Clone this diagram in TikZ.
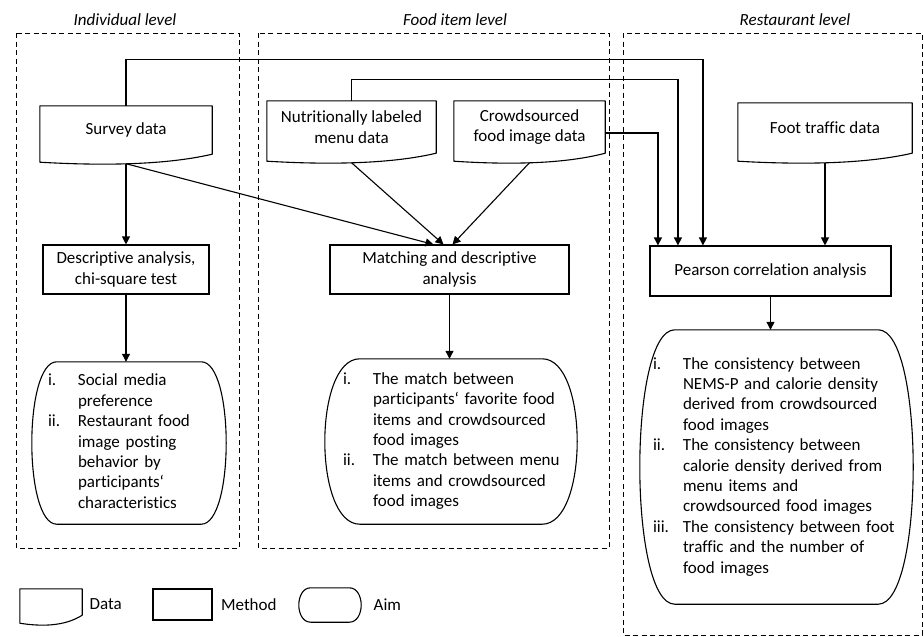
\documentclass[tikz,border=0pt]{standalone}
\usepackage{fontspec}
\setmainfont{Carlito}[Ligatures=NoCommon]
\usetikzlibrary{arrows.meta,positioning,calc}
\newcommand{\datawave}[1]{%
  \draw[shp] (#1.north west) -- (#1.north east) -- (#1.south east)
    .. controls ($(#1.south east)!0.3!(#1.south west)+(0,12)$) and ($(#1.south east)!0.7!(#1.south west)+(0,11)$) .. ($(#1.south west)+(0,8)$) -- cycle;
  \coordinate (#1-w) at ($(#1.south)+(0,9.5)$);}
\newcommand{\aimshape}[2]{%
  \draw[shp] ([xshift=#2]#1.north west) -- ([xshift=-#2]#1.north east)
    .. controls ([xshift=#2/3]#1.north east) and ([xshift=#2/3]#1.south east) .. ([xshift=-#2]#1.south east)
    -- ([xshift=#2]#1.south west)
    .. controls ([xshift=-#2/3]#1.south west) and ([xshift=-#2/3]#1.north west) .. cycle;}

\begin{document}
\begin{tikzpicture}[x=1pt, y=-1pt, every node/.style={font=\fontsize{17}{20.4}\selectfont},
    data/.style={inner sep=0pt, align=center},
    method/.style={draw, line width=1.1pt, inner sep=0pt, align=center},
    aim/.style={inner sep=0pt, align=left},
    title/.style={font=\fontsize{17}{20.4}\selectfont\itshape},
    frame/.style={draw, dash pattern=on 5pt off 3.5pt, line width=1pt},
    shp/.style={draw, line width=1.1pt, line join=round},
    arr/.style={-{Triangle[length=8pt, width=8pt]}, line width=1.1pt}]
  \useasboundingbox (0,0) rectangle (924,637);
  \draw[frame] (16,33) rectangle (239,548);
  \draw[frame] (258,33) rectangle (609,548);
  \draw[frame] (623,33) rectangle (922,635);
  \node[title] (tind) at (125,20) {Individual level};
  \node[title] (tfood) at (455,20) {Food item level};
  \node[title] (trest) at (795,20) {Restaurant level};
  \node[data, minimum width=172pt, minimum height=48pt] (survey) at (126,130) {Survey data};
  \node[data, minimum width=169pt, minimum height=52pt] (nutri) at (351.5,127) {Nutritionally labeled\\menu data};
  \node[data, minimum width=151pt, minimum height=52pt] (crowd) at (529.5,127) {Crowdsourced\\food image data};
  \node[data, minimum width=174pt, minimum height=50pt] (foot) at (825,128) {Foot traffic data};
  \datawave{survey} \datawave{nutri} \datawave{crowd} \datawave{foot}
  \node[method, minimum width=166pt, minimum height=49pt] (desc) at (126,269.5) {Descriptive analysis,\\chi-square test};
  \node[method, minimum width=239pt, minimum height=49pt] (match) at (449.5,269.5) {Matching and descriptive\\analysis};
  \node[method, minimum width=241pt, minimum height=50pt] (pearson) at (770.5,271) {Pearson correlation analysis};
  \node[aim, minimum width=194pt, minimum height=162pt, text width=162pt] (aimind) at (129,443) {\begin{tabular}{@{}p{30pt}@{}l@{}}
    i. & Social media\\ & preference\\ ii. & Restaurant food\\ & image posting\\ & behavior by\\ & participants‘\\ & characteristics\end{tabular}};
  \node[aim, minimum width=252pt, minimum height=165pt, text width=216pt] (aimfood) at (451,441.5) {\begin{tabular}{@{}p{30pt}@{}l@{}}
    i. & The match between\\ & participants‘ favorite food\\ & items and crowdsourced\\ & food images\\ ii. & The match between menu\\ & items and crowdsourced\\ & food images\end{tabular}};
  \node[aim, minimum width=273pt, minimum height=274pt, text width=247pt] (aimrest) at (776.5,467) {\begin{tabular}{@{}p{30pt}@{}l@{}}
    i. & The consistency between\\ & NEMS-P and calorie density\\ & derived from crowdsourced\\ & food images\\ ii. & The consistency between\\ & calorie density derived from\\ & menu items and\\ & crowdsourced food images\\ iii. & The consistency between foot\\ & traffic and the number of\\ & food images\end{tabular}};
  \aimshape{aimind}{25pt} \aimshape{aimfood}{35pt} \aimshape{aimrest}{35pt}
  \draw[arr] (survey-w) -- (desc); \draw[arr] (desc) -- (desc.south |- aimind.north);
  \draw[arr] (survey-w) -- ([xshift=-16pt]match.north); \draw[arr] (nutri-w) -- ([xshift=-6pt]match.north); \draw[arr] (crowd-w) -- ([xshift=3pt]match.north);
  \draw[arr] (match) -- (match.south |- aimfood.north);
  \draw[arr] (survey.north) -- ++(0,-46) -| ([xshift=53.5pt]pearson.north west);
  \draw[arr] (nutri.north) -- ++(0,-21) -| ([xshift=28.5pt]pearson.north west);
  \draw[arr] ([yshift=-6pt]crowd.east) -| ([xshift=8.5pt]pearson.north west);
  \draw[arr] (foot-w) -- (foot-w |- pearson.north); \draw[arr] (pearson) -- (pearson.south |- aimrest.north);
  \node[data, minimum width=62pt, minimum height=26pt] (legdata) at (51,602) {};
  \node[method, minimum width=59pt, minimum height=31pt] (legmethod) at (182.5,604.5) {};
  \node[aim, minimum width=62pt, minimum height=34pt] (legaim) at (330,605) {};
  \datawave{legdata} \aimshape{legaim}{12pt}
  \node[right=4pt of legdata, yshift=-2pt] (ldata) {Data};
  \node[right=5pt of legmethod] (lmethod) {Method};
  \node[right=9pt of legaim] (laim) {Aim};
\end{tikzpicture}
\end{document}
